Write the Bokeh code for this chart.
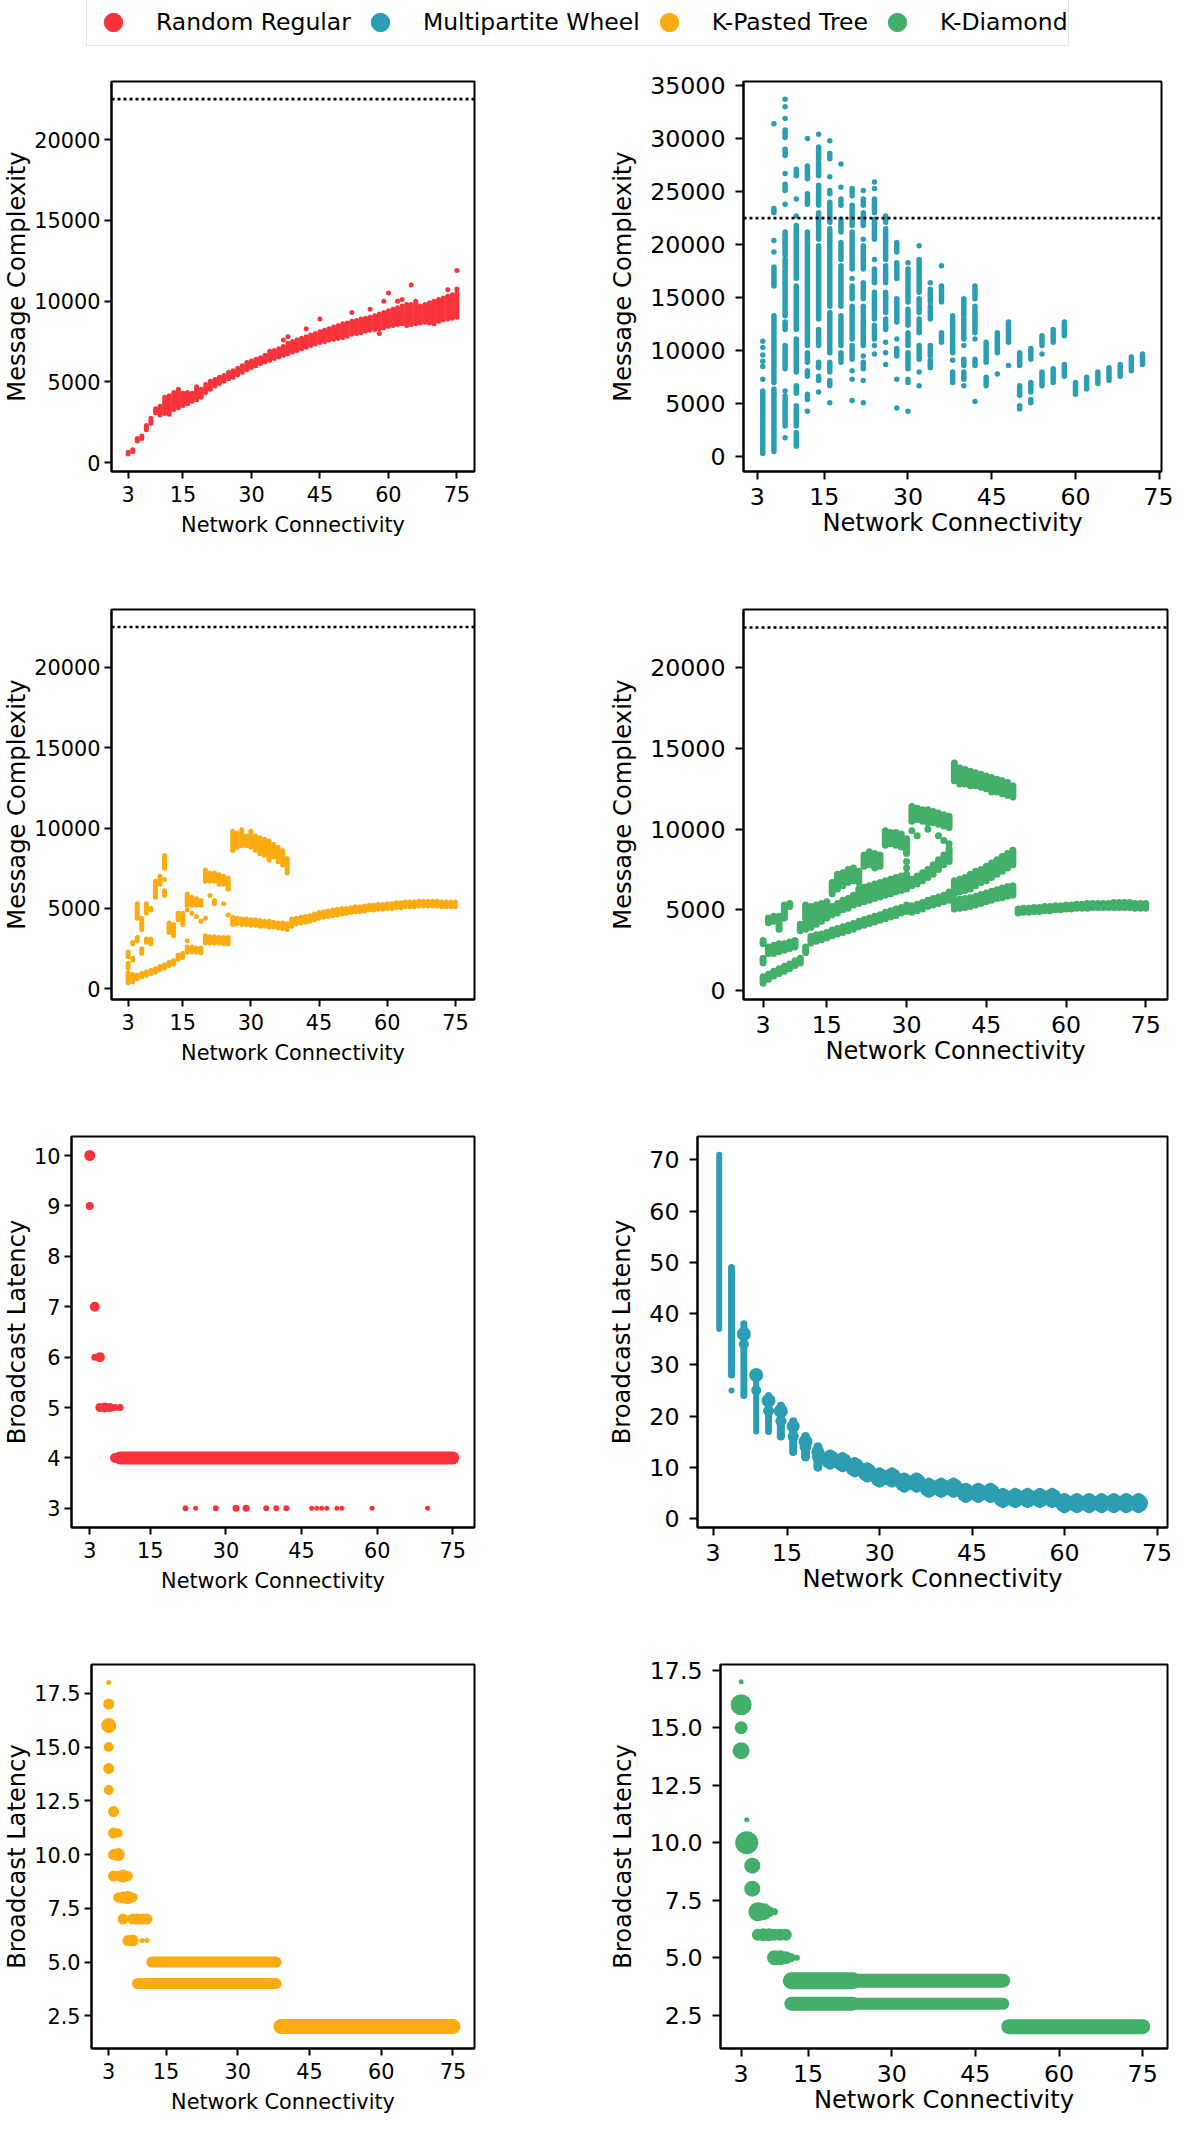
from bokeh.plotting import figure
from bokeh.models import FixedTicker, Span, Legend, LegendItem, Range1d, PrintfTickFormatter
from bokeh.layouts import column, row
from bokeh.embed import file_html
from bokeh.resources import INLINE

# ---------------- data ----------------
SERIES = ["Random Regular", "Multipartite Wheel", "K-Pasted Tree", "K-Diamond"]
COLORS = ["#F8333C", "#2B9EB3", "#FCAB10", "#44AF69"]

X_TICKS = [3, 15, 30, 45, 60, 75]
MSG_TICKS = [0, 5000, 10000, 15000, 20000]
MW_MSG_TICKS = [0, 5000, 10000, 15000, 20000, 25000, 30000, 35000]
RR_LAT_TICKS = [3, 4, 5, 6, 7, 8, 9, 10]
MW_LAT_TICKS = [0, 10, 20, 30, 40, 50, 60, 70]
TREE_LAT_TICKS = [2.5, 5.0, 7.5, 10.0, 12.5, 15.0, 17.5]
UPPER_BOUND = 22500

# message complexity: (connectivity, lowest value, highest value) of each cluster
RR_MSG = [
    (3, 550, 650), (4, 700, 800), (5, 1350, 1500), (6, 1500, 1650), (7, 2050, 2300), (8, 2450, 2750),
    (9, 3100, 3350), (10, 2950, 3500), (11, 3050, 4050), (12, 3000, 4150), (13, 3300, 4350),
    (14, 3400, 4550), (15, 3550, 4300), (16, 3650, 4350), (17, 3800, 4300), (18, 3900, 4700),
    (19, 4050, 4550), (20, 4350, 4850), (21, 4550, 5050), (22, 4750, 5150), (23, 4900, 5300),
    (24, 5050, 5400), (25, 5200, 5600), (26, 5300, 5700), (27, 5450, 5850), (28, 5600, 6000),
    (29, 5750, 6200), (30, 5900, 6300), (31, 6000, 6400), (32, 6150, 6500), (33, 6250, 6650),
    (34, 6350, 6900), (35, 6450, 6950), (36, 6550, 7050), (37, 6650, 7200), (38, 6750, 7400),
    (39, 6850, 7500), (40, 6950, 7600), (41, 7050, 7700), (42, 7150, 7800), (43, 7250, 7900),
    (44, 7350, 8000), (45, 7450, 8100), (46, 7500, 8200), (47, 7600, 8300), (48, 7650, 8400),
    (49, 7700, 8500), (50, 7750, 8600), (51, 7850, 8650), (52, 7950, 8750), (53, 8000, 8800),
    (54, 8050, 8900), (55, 8150, 8950), (56, 8200, 9000), (57, 8250, 9100), (58, 8300, 9200),
    (59, 8350, 9300), (60, 8450, 9400), (61, 8500, 9500), (62, 8550, 9600), (63, 8600, 9700),
    (64, 8500, 9800), (65, 8550, 9800), (66, 8600, 9850), (67, 8650, 9700), (68, 8700, 9800),
    (69, 8650, 9900), (70, 8600, 10000), (71, 8750, 10100), (72, 8850, 10200), (73, 8900, 10300),
    (74, 8950, 10400), (75, 9000, 10500),
    (37, 7600, 7600), (38, 7800, 7800), (42, 8300, 8300), (45, 8900, 8900), (52, 9300, 9300),
    (56, 9500, 9500), (58, 8000, 8000), (59, 10000, 10000), (60, 10500, 10500), (62, 10000, 10000),
    (63, 10100, 10100), (65, 11000, 11000), (66, 10000, 10000), (73, 10700, 10700),
    (75, 10750, 10750), (75, 11900, 11900),
]

MW_MSG = [
    (4, 300, 6200), (4, 7300, 7300), (4, 8500, 8500), (4, 9000, 9000), (4, 9600, 9600), (4, 10300, 10300), (4, 10900, 10900),
    (6, 500, 6400), (6, 7000, 13300), (6, 16100, 17900), (6, 19300, 19300), (6, 20400, 20400), (6, 23000, 23400), (6, 31400, 31400),
    (8, 1800, 1800), (8, 2900, 5750), (8, 6200, 6200), (8, 8300, 10500), (8, 12000, 12700), (8, 13300, 18600), (8, 19000, 21200),
    (8, 23800, 23800), (8, 25100, 25700), (8, 26700, 26700), (8, 28400, 29000), (8, 30100, 30800), (8, 31900, 31900), (8, 33000, 33000), (8, 33700, 33700),
    (10, 1000, 2300), (10, 2900, 4800), (10, 6000, 6700), (10, 8000, 11100), (10, 12000, 16100), (10, 16800, 21800), (10, 22700, 22700), (10, 24300, 24300), (10, 26500, 27100),
    (12, 4300, 4300), (12, 5400, 5900), (12, 7600, 8100), (12, 8900, 9800), (12, 10500, 21200), (12, 23800, 24800), (12, 26200, 27400), (12, 30000, 30000),
    (14, 6100, 6100), (14, 7200, 7600), (14, 8400, 8900), (14, 10500, 12000), (14, 13000, 19900), (14, 20500, 23000), (14, 23700, 25600), (14, 26500, 27800), (14, 28100, 29200), (14, 30400, 30400),
    (16, 5100, 5100), (16, 6700, 7200), (16, 8000, 8900), (16, 9800, 13600), (16, 14200, 21500), (16, 22100, 24000), (16, 24800, 25100), (16, 26400, 26400), (16, 28100, 28600), (16, 29800, 29800),
    (18, 8900, 9800), (18, 10500, 13300), (18, 14200, 18000), (18, 18600, 20200), (18, 21200, 22400), (18, 23700, 24300), (18, 25400, 25400), (18, 27600, 27600),
    (20, 5300, 5300), (20, 7300, 7300), (20, 8100, 8100), (20, 9200, 10500), (20, 11100, 14200), (20, 14900, 16100), (20, 16800, 16800), (20, 17700, 21200), (20, 21800, 23700), (20, 24600, 25300),
    (22, 5100, 5100), (22, 7200, 7200), (22, 8300, 8900), (22, 9500, 9500), (22, 10500, 13000), (22, 13300, 14200), (22, 14900, 16400), (22, 17700, 19900), (22, 20500, 20500), (22, 21800, 23000), (22, 23700, 24300), (22, 25100, 25100),
    (24, 9700, 9700), (24, 10500, 10500), (24, 11100, 12400), (24, 13000, 15500), (24, 16400, 17700), (24, 18600, 18600), (24, 20500, 22400), (24, 23000, 24300), (24, 25300, 25300), (24, 25900, 25900),
    (26, 8700, 8700), (26, 9800, 9800), (26, 10800, 10800), (26, 12000, 13000), (26, 13600, 15500), (26, 16400, 18000), (26, 18600, 21500), (26, 22100, 22700),
    (28, 4600, 4600), (28, 7300, 7300), (28, 9500, 10200), (28, 11100, 11100), (28, 12700, 13900), (28, 14200, 14900), (28, 16800, 18300), (28, 19300, 20200),
    (30, 4300, 4300), (30, 7000, 7300), (30, 8300, 9800), (30, 10500, 11700), (30, 12400, 13900), (30, 14600, 17700), (30, 18300, 18300),
    (32, 6700, 6700), (32, 8000, 8000), (32, 9200, 10500), (32, 11700, 13000), (32, 13600, 14900), (32, 15500, 18600), (32, 19900, 19900),
    (34, 8400, 9100), (34, 9500, 10500), (34, 13000, 14200), (34, 14600, 15500), (34, 15800, 15800), (34, 16400, 16400),
    (36, 10800, 11700), (36, 14600, 16100), (36, 18000, 18000),
    (38, 7000, 8000), (38, 9100, 9100), (38, 9800, 13000), (38, 13300, 13300),
    (40, 6700, 6700), (40, 7300, 8000), (40, 8600, 9200), (40, 10500, 10500), (40, 11100, 13000), (40, 13300, 14900),
    (42, 5200, 5200), (42, 8600, 9200), (42, 11100, 11100), (42, 11700, 14200), (42, 14900, 16100),
    (44, 6700, 7500), (44, 8900, 10800),
    (46, 7800, 7800), (46, 9800, 11700),
    (48, 8600, 8600), (48, 10800, 12700),
    (50, 4500, 4800), (50, 5800, 6700), (50, 8600, 9800),
    (52, 5100, 5400), (52, 6100, 7000), (52, 9200, 10200),
    (54, 6700, 8000), (54, 9700, 9700), (54, 10500, 11400),
    (56, 7000, 8300), (56, 10800, 12000),
    (58, 7600, 8700), (58, 11400, 12700),
    (60, 5900, 7000), (62, 6400, 7500), (64, 6900, 8000), (66, 7200, 8400), (68, 7600, 8700),
    (70, 8100, 9400), (72, 8700, 9700),
]

KPT_MSG = [
    (3, 380, 1000), (4, 450, 900), (5, 650, 850), (6, 750, 950), (7, 850, 1050), (8, 950, 1150),
    (9, 1050, 1250), (10, 1200, 1400), (11, 1300, 1500), (12, 1450, 1650), (13, 1550, 1750),
    (14, 1850, 2100), (15, 1950, 2200), (16, 2300, 2600), (17, 2300, 2600), (18, 2300, 2550),
    (19, 2250, 2550), (20, 2850, 3300), (21, 2850, 3250), (22, 2850, 3250), (23, 2850, 3200),
    (24, 2800, 3200), (25, 2800, 3200), (26, 4000, 4450), (27, 4050, 4400), (28, 4000, 4350),
    (29, 4000, 4350), (30, 3950, 4300), (31, 3950, 4300), (32, 3900, 4250), (33, 3900, 4200),
    (34, 3850, 4200), (35, 3850, 4150), (36, 3800, 4100), (37, 3750, 4100), (38, 3700, 4050),
    (39, 3900, 4350), (40, 4050, 4400), (41, 4100, 4450), (42, 4150, 4500), (43, 4200, 4550),
    (44, 4300, 4650), (45, 4400, 4750), (46, 4450, 4800), (47, 4500, 4850), (48, 4550, 4900),
    (49, 4600, 4950), (50, 4650, 5000), (51, 4700, 5000), (52, 4750, 5050), (53, 4800, 5100),
    (54, 4800, 5100), (55, 4850, 5150), (56, 4900, 5200), (57, 4900, 5200), (58, 4950, 5250),
    (59, 4950, 5250), (60, 5000, 5300), (61, 5000, 5300), (62, 5050, 5350), (63, 5050, 5350),
    (64, 5100, 5400), (65, 5100, 5400), (66, 5100, 5400), (67, 5150, 5450), (68, 5150, 5450),
    (69, 5150, 5450), (70, 5150, 5450), (71, 5150, 5450), (72, 5100, 5400), (73, 5100, 5400),
    (74, 5100, 5400), (75, 5100, 5400),
    (3, 2000, 2300), (3, 1300, 1600), (4, 2800, 2900), (4, 1800, 1900), (5, 4400, 5300), (5, 3000, 3200),
    (6, 3700, 4400), (6, 2200, 2500), (7, 4700, 5300), (7, 2900, 3100), (8, 4900, 5000), (8, 2800, 3100),
    (9, 5700, 6700), (10, 6500, 7000), (11, 7500, 8300), (11, 6800, 6800), (11, 5800, 6100),
    (12, 3500, 4100), (13, 3300, 4000), (14, 4300, 4700), (15, 4000, 4700),
    (16, 5200, 5900), (16, 4900, 4900), (16, 3000, 3000), (17, 5200, 5700), (17, 4700, 4700),
    (18, 5200, 5600), (18, 4500, 4500), (19, 5200, 5500), (19, 4200, 4200),
    (20, 6700, 7400), (20, 4400, 4400), (21, 6700, 7200), (21, 5800, 5800), (22, 6700, 7200),
    (22, 5300, 5500), (23, 6500, 7100), (24, 6500, 7000), (24, 5300, 5300), (25, 6200, 6900), (25, 4600, 4600),
    (26, 8600, 9800), (27, 8800, 9700), (28, 8900, 9900), (29, 8900, 9500), (30, 8800, 9800),
    (31, 8600, 9500), (32, 8400, 9400), (33, 8300, 9300), (34, 8000, 9200), (35, 8200, 9000),
    (36, 7900, 8800), (37, 7700, 8600), (38, 7200, 8100),
]

KD_MSG = [
    (3, 450, 850), (4, 700, 1000), (5, 900, 1200), (6, 1050, 1350), (7, 1200, 1500), (8, 1350, 1650),
    (9, 1550, 1850), (10, 1700, 2000), (11, 2350, 2700),
    (12, 2950, 3350), (13, 3050, 3450), (14, 3150, 3500), (15, 3250, 3600), (16, 3400, 3750),
    (17, 3500, 3850), (18, 3600, 3950), (19, 3700, 4050), (20, 3800, 4150), (21, 3950, 4300),
    (22, 4050, 4400), (23, 4150, 4500), (24, 4250, 4600), (25, 4350, 4700), (26, 4450, 4850),
    (27, 4550, 4950), (28, 4650, 5050), (29, 4800, 5150), (30, 4900, 5300),
    (31, 4850, 5250), (32, 4950, 5350), (33, 5050, 5450), (34, 5200, 5600), (35, 5300, 5700),
    (36, 5400, 5800), (37, 5500, 5900), (38, 5600, 6100),
    (39, 5050, 5600), (40, 5100, 5650), (41, 5150, 5700), (42, 5200, 5750), (43, 5300, 5850),
    (44, 5400, 5950), (45, 5500, 6050), (46, 5600, 6150), (47, 5700, 6250), (48, 5750, 6350),
    (49, 5850, 6450), (50, 5900, 6500),
    (39, 6000, 6800), (40, 6100, 6900), (41, 6200, 7000), (42, 6300, 7200), (43, 6500, 7400),
    (44, 6700, 7500), (45, 6800, 7700), (46, 7000, 7900), (47, 7200, 8100), (48, 7400, 8300),
    (49, 7600, 8500), (50, 7800, 8700),
    (39, 13000, 14100), (40, 12800, 13800), (41, 12800, 13700), (42, 12700, 13600), (43, 12700, 13500),
    (44, 12600, 13400), (45, 12500, 13300), (46, 12300, 13200), (47, 12300, 13100), (48, 12200, 13000),
    (49, 12100, 12900), (50, 12000, 12700),
    (51, 4800, 5050), (52, 4850, 5100), (53, 4850, 5100), (54, 4900, 5150), (55, 4900, 5150),
    (56, 4950, 5200), (57, 4950, 5200), (58, 5000, 5250), (59, 5000, 5250), (60, 5050, 5300),
    (61, 5050, 5300), (62, 5100, 5350), (63, 5100, 5350), (64, 5100, 5400), (65, 5150, 5400),
    (66, 5150, 5400), (67, 5150, 5400), (68, 5150, 5400), (69, 5150, 5450), (70, 5150, 5450),
    (71, 5150, 5450), (72, 5150, 5450), (73, 5100, 5400), (74, 5100, 5400), (75, 5100, 5400),
    (3, 1700, 2000), (4, 2300, 2700), (5, 2300, 2800), (6, 2400, 2900), (7, 2500, 2900), (8, 2600, 3000), (9, 2700, 3100),
    (3, 2900, 3100), (4, 4200, 4500), (5, 4300, 4600), (6, 3800, 4600), (7, 4500, 5300), (8, 5200, 5400),
    (10, 3700, 4100), (11, 3800, 4200), (12, 3900, 4400), (13, 4100, 4600), (14, 4300, 4800),
    (15, 4500, 5000), (16, 4700, 5200), (17, 4800, 5400), (18, 5000, 5600), (19, 5100, 5700), (20, 5300, 5900),
    (21, 5400, 6300), (22, 5500, 6400), (23, 5600, 6500), (24, 5700, 6600), (25, 5800, 6700),
    (26, 5900, 6800), (27, 6000, 6900), (28, 6100, 7000), (29, 6200, 7100), (30, 6300, 7200),
    (31, 6500, 6900), (32, 6600, 7100), (33, 6800, 7300), (34, 7000, 7500), (35, 7200, 7800),
    (36, 7500, 8100), (37, 7800, 8400), (38, 8000, 8800),
    (11, 4500, 5300), (12, 4600, 5200), (13, 4700, 5300), (14, 4800, 5400), (15, 5000, 5500),
    (16, 6000, 6700), (17, 6300, 7200), (18, 6500, 7300), (19, 6700, 7500), (20, 6800, 7600), (21, 6700, 7400),
    (22, 7700, 8400), (23, 7800, 8600), (24, 7600, 8500), (25, 7700, 8400),
    (26, 9000, 9900), (27, 9100, 9800), (28, 9000, 9800), (29, 8900, 9700), (30, 8500, 9400),
    (31, 10500, 11400), (32, 10600, 11300), (33, 10500, 11200), (34, 10400, 11200), (35, 10400, 11100),
    (36, 10300, 11000), (37, 10200, 10900), (38, 10100, 10800),
    (31, 9900, 9900), (32, 9600, 9600), (34, 10000, 10000), (36, 9600, 9600), (37, 9300, 9300),
    (38, 9100, 9100), (30, 8000, 8000), (30, 7600, 7600),
]

# broadcast latency: single points (connectivity, latency, marker px)
RR_LAT_PTS = [
    (3, 10, 11), (3, 9, 8), (4, 7, 10), (4, 6, 7), (5, 6, 10), (5, 5, 9), (6, 5, 10), (7, 5, 9),
    (8, 5, 7), (9, 5, 7), (8, 4, 10),
    (22, 3, 6), (24, 3, 5), (28, 3, 6), (32, 3, 7), (34, 3, 7), (38, 3, 6), (40, 3, 6), (42, 3, 6),
    (47, 3, 5), (48, 3, 5), (49, 3, 5), (50, 3, 5), (52, 3, 5), (53, 3, 5), (59, 3, 5), (70, 3, 5),
]
# runs of equal latency: (latency, first connectivity, last connectivity, marker px)
RR_LAT_RUNS = [(4, 9, 75, 13)]

MW_LAT_COLS = [  # (connectivity, lowest, highest, marker px)
    (4, 37, 71, 6), (6, 28, 49, 7), (8, 24, 38, 7), (10, 17, 28, 6), (12, 17, 24, 7),
    (14, 16, 22, 8), (16, 13, 19, 8), (18, 12, 16, 9), (20, 10, 14, 9),
]
MW_LAT_PTS = [
    (6, 25, 6), (8, 36, 14), (8, 34, 10), (10, 28, 14), (10, 25, 10), (12, 23, 14), (12, 21, 11),
    (14, 21, 14), (14, 19, 11), (16, 18, 13), (16, 16, 11), (18, 15, 14), (18, 14, 12),
    (20, 13, 13), (20, 12, 12),
]
MW_LAT_CENTER = [  # (connectivity, typical latency)
    (22, 11.5), (24, 11), (26, 10), (28, 9), (30, 8), (32, 8), (34, 7), (36, 7), (38, 6), (40, 6),
    (42, 6), (44, 5), (46, 5), (48, 5), (50, 4), (52, 4), (54, 4), (56, 4), (58, 4), (60, 3),
    (62, 3), (64, 3), (66, 3), (68, 3), (70, 3), (72, 3),
]

KPT_LAT_PTS = [
    (3, 18, 5), (3, 17, 11), (3, 16, 15), (3, 15, 10), (3, 14, 11), (3, 13, 10), (4, 12, 11),
    (4, 11, 11), (5, 11, 9), (4, 10, 11), (5, 10, 13), (4, 9, 11), (5, 9, 10), (6, 9, 13), (7, 9, 10),
    (5, 8, 10), (6, 8, 12), (7, 8, 13), (8, 8, 10), (6, 7, 11), (8, 7, 11), (9, 7, 11), (10, 7, 11),
    (11, 7, 11), (7, 6, 11), (8, 6, 12), (10, 6, 5), (11, 6, 5),
]
KPT_LAT_RUNS = [(5, 12, 38, 11), (4, 9, 38, 11), (2, 39, 75, 15)]

KD_LAT_PTS = [
    (3, 17, 5), (3, 16, 21), (3, 15, 13), (3, 14, 17), (4, 11, 5), (4, 10, 23), (5, 9, 16), (5, 8, 16),
    (6, 7, 19), (7, 7, 17), (8, 7, 11), (9, 7, 7), (6, 6, 12), (7, 6, 13), (8, 6, 13), (9, 6, 12),
    (10, 6, 12), (11, 6, 12), (9, 5, 15), (10, 5, 15), (11, 5, 13), (12, 5, 9), (13, 5, 6),
]
KD_LAT_RUNS = [(4, 12, 23, 17), (4, 23, 50, 14), (3, 12, 23, 14), (3, 23, 50, 12), (2, 51, 75, 15)]

# ---------------- styling helpers ----------------
FONT = "DejaVu Sans"
# left-hand panels are drawn a little narrower in the reference, so their horizontal texts are smaller
LEFT = dict(tick_fs="20.8px", xlab_fs="20.8px", ylab_fs="24.2px", tick=7, xstand=7, xlab=8,
            ystand=4, ylab=0)
RIGHT = dict(tick_fs="23.7px", xlab_fs="24.2px", ylab_fs="24.2px", tick=8, xstand=8, xlab=1,
             ystand=10, ylab=10)


def make_fig(w, h, xr, yr, yticks, ylabel, bl, br, bt, bb, st, fmt=None):
    p = figure(width=w, height=h, x_range=Range1d(*xr), y_range=Range1d(*yr),
               toolbar_location=None, output_backend="svg",
               min_border_left=bl, min_border_right=br, min_border_top=bt, min_border_bottom=bb,
               background_fill_color="white", border_fill_color="white")
    p.grid.visible = False
    p.outline_line_color = "black"
    p.outline_line_width = 2
    p.outline_line_alpha = 1
    p.xaxis.ticker = FixedTicker(ticks=X_TICKS)
    p.yaxis.ticker = FixedTicker(ticks=yticks)
    if fmt:
        p.yaxis.formatter = PrintfTickFormatter(format=fmt)
    p.xaxis.axis_label = "Network Connectivity"
    p.yaxis.axis_label = ylabel
    for ax in p.axis:
        ax.axis_label_text_font = FONT
        ax.axis_label_text_font_style = "normal"
        ax.axis_label_text_color = "black"
        ax.major_label_text_font = FONT
        ax.major_label_text_font_size = st["tick_fs"]
        ax.major_label_text_color = "black"
        ax.major_tick_out = st["tick"]
        ax.major_tick_in = 0
        ax.minor_tick_out = 0
        ax.minor_tick_in = 0
        ax.major_tick_line_width = 2
        ax.major_tick_line_color = "black"
        ax.axis_line_width = 2
        ax.axis_line_color = "black"
    p.xaxis.axis_label_text_font_size = st["xlab_fs"]
    p.yaxis.axis_label_text_font_size = st["ylab_fs"]
    p.xaxis.major_label_standoff = st["xstand"]
    p.xaxis.axis_label_standoff = st["xlab"]
    p.yaxis.major_label_standoff = st["ystand"]
    p.yaxis.axis_label_standoff = st["ylab"]
    return p


def draw_ranges(p, data, color, w):
    seg = [d for d in data if d[2] > d[1]]
    pts = [d for d in data if d[2] <= d[1]]
    p.segment(x0=[d[0] for d in seg], y0=[d[1] for d in seg], x1=[d[0] for d in seg],
              y1=[d[2] for d in seg], line_color=color, line_width=w, line_cap="round")
    p.scatter(x=[d[0] for d in pts], y=[d[1] for d in pts], size=w, fill_color=color, line_color=None)


def draw_points(p, pts, color):
    p.scatter(x=[d[0] for d in pts], y=[d[1] for d in pts], size=[d[2] for d in pts],
              fill_color=color, line_color=None)


def draw_runs(p, runs, color):
    p.segment(x0=[r[1] for r in runs], y0=[r[0] for r in runs], x1=[r[2] for r in runs],
              y1=[r[0] for r in runs], line_width=[r[3] for r in runs], line_color=color,
              line_cap="round")


def bound(p):
    p.add_layout(Span(location=UPPER_BOUND, dimension="width", line_color="black",
                      line_width=2.6, line_dash="3 3"))


# ---------------- legend strip ----------------
lg = figure(width=1173, height=46, x_range=Range1d(0, 1), y_range=Range1d(0, 1),
            toolbar_location=None, output_backend="svg", x_axis_type=None, y_axis_type=None,
            min_border=0, background_fill_color="white", border_fill_color="white")
lg.grid.visible = False
lg.outline_line_color = None
items = []
for name, c in zip(SERIES, COLORS):
    r = lg.scatter(x=[-5], y=[-5], size=10, fill_color=c, line_color=c)
    items.append(LegendItem(label=name, renderers=[r]))
legend = Legend(items=items, orientation="horizontal", location=(86, 0), glyph_width=52,
                glyph_height=46, label_standoff=17, spacing=3, padding=0, margin=0,
                label_text_font=FONT, label_text_font_size="23.5px", label_text_color="black",
                border_line_color="#cccccc", border_line_width=1.5, background_fill_color="white")
lg.add_layout(legend)

# ---------------- panels ----------------
LW, RW = 592, 581

f1 = make_fig(LW, 501, (-0.64, 78.86), (-539, 23591), MSG_TICKS, "Message Complexity",
              0, 118, 35, 76, LEFT)
bound(f1)
draw_ranges(f1, RR_MSG, COLORS[0], 5)

f2 = make_fig(RW, 501, (0.55, 75.4), (-1387, 35377), MW_MSG_TICKS, "Message Complexity",
              151, 12, 35, 76, RIGHT)
bound(f2)
draw_ranges(f2, MW_MSG, COLORS[1], 5.5)

f3 = make_fig(LW, 528, (-0.66, 79.2), (-659, 23588), MSG_TICKS, "Message Complexity",
              0, 118, 62, 76, LEFT)
bound(f3)
draw_ranges(f3, KPT_MSG, COLORS[2], 5)

f4 = make_fig(RW, 528, (-0.69, 79.1), (-558, 23620), MSG_TICKS, "Message Complexity",
              151, 6, 62, 76, RIGHT)
bound(f4)
draw_ranges(f4, KD_MSG, COLORS[3], 7)

f5 = make_fig(LW, 528, (-0.62, 79.3), (2.62, 10.377), RR_LAT_TICKS, "Broadcast Latency",
              0, 118, 61, 76, LEFT)
draw_runs(f5, RR_LAT_RUNS, COLORS[0])
draw_points(f5, RR_LAT_PTS, COLORS[0])

f6 = make_fig(RW, 528, (0.48, 76.7), (-1.76, 74.56), MW_LAT_TICKS, "Broadcast Latency",
              105, 6, 61, 76, RIGHT)
f6.segment(x0=[c[0] for c in MW_LAT_COLS], y0=[c[1] for c in MW_LAT_COLS],
           x1=[c[0] for c in MW_LAT_COLS], y1=[c[2] for c in MW_LAT_COLS],
           line_width=[c[3] for c in MW_LAT_COLS], line_color=COLORS[1], line_cap="round")
draw_points(f6, MW_LAT_PTS, COLORS[1])
f6.segment(x0=[c[0] for c in MW_LAT_CENTER], y0=[c[1] - 1.1 for c in MW_LAT_CENTER],
           x1=[c[0] for c in MW_LAT_CENTER], y1=[c[1] + 1.1 for c in MW_LAT_CENTER],
           line_width=9, line_color=COLORS[1], line_cap="round")
f6.scatter(x=[c[0] for c in MW_LAT_CENTER], y=[c[1] for c in MW_LAT_CENTER], size=19,
           fill_color=COLORS[1], line_color=None)

f7 = make_fig(LW, 518, (-0.6, 79.5), (0.98, 18.84), TREE_LAT_TICKS, "Broadcast Latency",
              0, 118, 61, 73, LEFT, fmt="%.1f")
draw_runs(f7, KPT_LAT_RUNS, COLORS[2])
draw_points(f7, KPT_LAT_PTS, COLORS[2])

f8 = make_fig(RW, 518, (-0.7, 79.45), (1.05, 17.75), TREE_LAT_TICKS, "Broadcast Latency",
              128, 6, 61, 73, RIGHT, fmt="%.1f")
draw_runs(f8, KD_LAT_RUNS, COLORS[3])
draw_points(f8, KD_LAT_PTS, COLORS[3])

layout = column(lg, row(f1, f2), row(f3, f4), row(f5, f6), row(f7, f8))

with open("out.html", "w") as fh:
    fh.write(file_html(layout, INLINE))
